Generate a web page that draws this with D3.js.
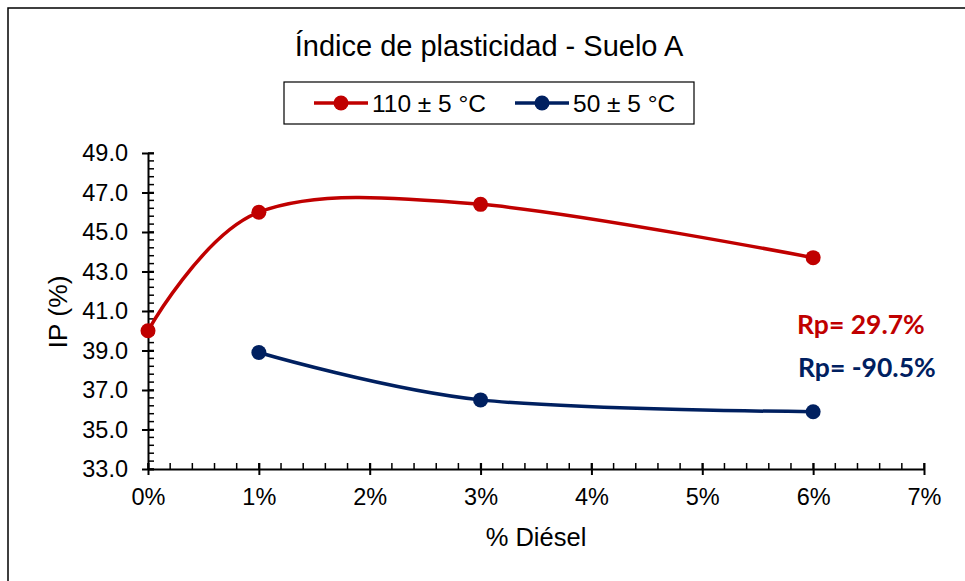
<!DOCTYPE html>
<html>
<head>
<meta charset="utf-8">
<script src="https://cdn.jsdelivr.net/npm/d3@7"></script>
<style>
body{margin:0;background:#fff;}
svg{display:block;}
text{font-family:"Liberation Sans",Arial,sans-serif;fill:#000;}
</style>
</head>
<body>
<script>
// data
var dieselPct = [0, 1, 3, 6];
var ip110 = [40.0, 46.0, 46.4, 43.7];
var dieselPct50 = [1, 3, 6];
var ip50 = [38.9, 36.5, 35.9];
var seriesNames = ["110 ± 5 °C", "50 ± 5 °C"];
var rpLabels = ["Rp= 29.7%", "Rp= -90.5%"];
var yTicks = [33, 35, 37, 39, 41, 43, 45, 47, 49];
var xTicks = [0, 1, 2, 3, 4, 5, 6, 7];

var width = 965, height = 581;
var red = "#C00000", navy = "#002060";

var svg = d3.select("body").append("svg")
  .attr("width", width)
  .attr("height", height);

//outer chart border, runs off the right and bottom edge
svg.append("rect")
  .attr("x", 8).attr("y", 8)
  .attr("width", 980).attr("height", 600)
  .attr("fill", "none").attr("stroke", "#000").attr("stroke-width", 1.5);

var x = d3.scaleLinear().domain([0, 7]).range([148, 924]);
var y = d3.scaleLinear().domain([33, 49]).range([469, 153]);

//title
svg.append("text")
  .attr("x", 489).attr("y", 56)
  .attr("text-anchor", "middle")
  .style("font-size", "29px")
  .text("Índice de plasticidad - Suelo A");

//legend
svg.append("rect")
  .attr("x", 284).attr("y", 82)
  .attr("width", 410).attr("height", 42)
  .attr("fill", "none").attr("stroke", "#000").attr("stroke-width", 1.2);
var legItems = [{name: seriesNames[0], col: red, x0: 314}, {name: seriesNames[1], col: navy, x0: 515}];
legItems.forEach(function(d){
  svg.append("line")
    .attr("x1", d.x0).attr("x2", d.x0 + 54)
    .attr("y1", 103).attr("y2", 103)
    .attr("stroke", d.col).attr("stroke-width", 3.5);
  svg.append("circle")
    .attr("cx", d.x0 + 27).attr("cy", 103).attr("r", 7.5)
    .attr("fill", d.col);
  svg.append("text")
    .attr("x", d.x0 + 58).attr("y", 112)
    .style("font-size", "24.5px")
    .text(d.name);
});

//minor ticks (inside) first
var yMinor = d3.range(33, 49.001, 0.4);
svg.append("g").selectAll("line").data(yMinor).enter().append("line")
  .attr("x1", 148).attr("x2", 154)
  .attr("y1", function(d){ return y(d); }).attr("y2", function(d){ return y(d); })
  .attr("stroke", "#000").attr("stroke-width", 1.5);
var xMinor = d3.range(0, 7.001, 0.2);
svg.append("g").selectAll("line").data(xMinor).enter().append("line")
  .attr("x1", function(d){ return x(d); }).attr("x2", function(d){ return x(d); })
  .attr("y1", 469).attr("y2", 463)
  .attr("stroke", "#000").attr("stroke-width", 1.5);

//y axis
var yAxis = d3.axisLeft(y).tickValues(yTicks)
  .tickFormat(d3.format(".1f")).tickSizeInner(6).tickSizeOuter(0).tickPadding(14);
var gy = svg.append("g").attr("transform", "translate(148,0)").call(yAxis);
gy.selectAll(".tick line").attr("x2", 6).attr("x1", -6);
//x axis
var xAxis = d3.axisBottom(x).tickValues(xTicks)
  .tickFormat(function(d){ return d + "%"; }).tickSizeInner(6).tickSizeOuter(0).tickPadding(13);
var gx = svg.append("g").attr("transform", "translate(0,469)").call(xAxis);
gx.selectAll(".tick line").attr("y1", -6).attr("y2", 6);

[gx, gy].forEach(function(g){
  g.select(".domain").attr("stroke", "#000").attr("stroke-width", 2);
  g.selectAll(".tick line").attr("stroke", "#000").attr("stroke-width", 2);
  g.selectAll("text").style("font-size", "23.5px").attr("fill", "#000")
    .style("font-family", "'Liberation Sans',Arial,sans-serif");
});

//axis titles
svg.append("text")
  .attr("transform", "translate(67,312) rotate(-90)")
  .attr("text-anchor", "middle")
  .style("font-size", "26.5px")
  .text("IP (%)");
svg.append("text")
  .attr("x", 536).attr("y", 546)
  .attr("text-anchor", "middle")
  .style("font-size", "25.5px")
  .text("% Diésel");

//series
var line = d3.line()
  .x(function(d){ return x(d[0]); })
  .y(function(d){ return y(d[1]); })
  .curve(d3.curveCatmullRom.alpha(0));

var s110 = d3.zip(dieselPct, ip110);
var s50 = d3.zip(dieselPct50, ip50);
[[s110, red], [s50, navy]].forEach(function(s){
  svg.append("path").datum(s[0])
    .attr("d", line)
    .attr("fill", "none").attr("stroke", s[1]).attr("stroke-width", 3.5);
  svg.append("g").selectAll("circle").data(s[0]).enter().append("circle")
    .attr("cx", function(d){ return x(d[0]); })
    .attr("cy", function(d){ return y(d[1]); })
    .attr("r", 7.5)
    .attr("fill", s[1]);
});

//Rp labels
svg.append("text")
  .attr("x", 797).attr("y", 334)
  .style("font-family", "Lato,'Open Sans',sans-serif")
  .style("font-weight", "bold").style("font-size", "26.5px")
  .style("fill", red)
  .text(rpLabels[0]);
svg.append("text")
  .attr("x", 798).attr("y", 377)
  .style("font-family", "Lato,'Open Sans',sans-serif")
  .style("font-weight", "bold").style("font-size", "26.5px")
  .style("fill", navy)
  .text(rpLabels[1]);
</script>
</body>
</html>
